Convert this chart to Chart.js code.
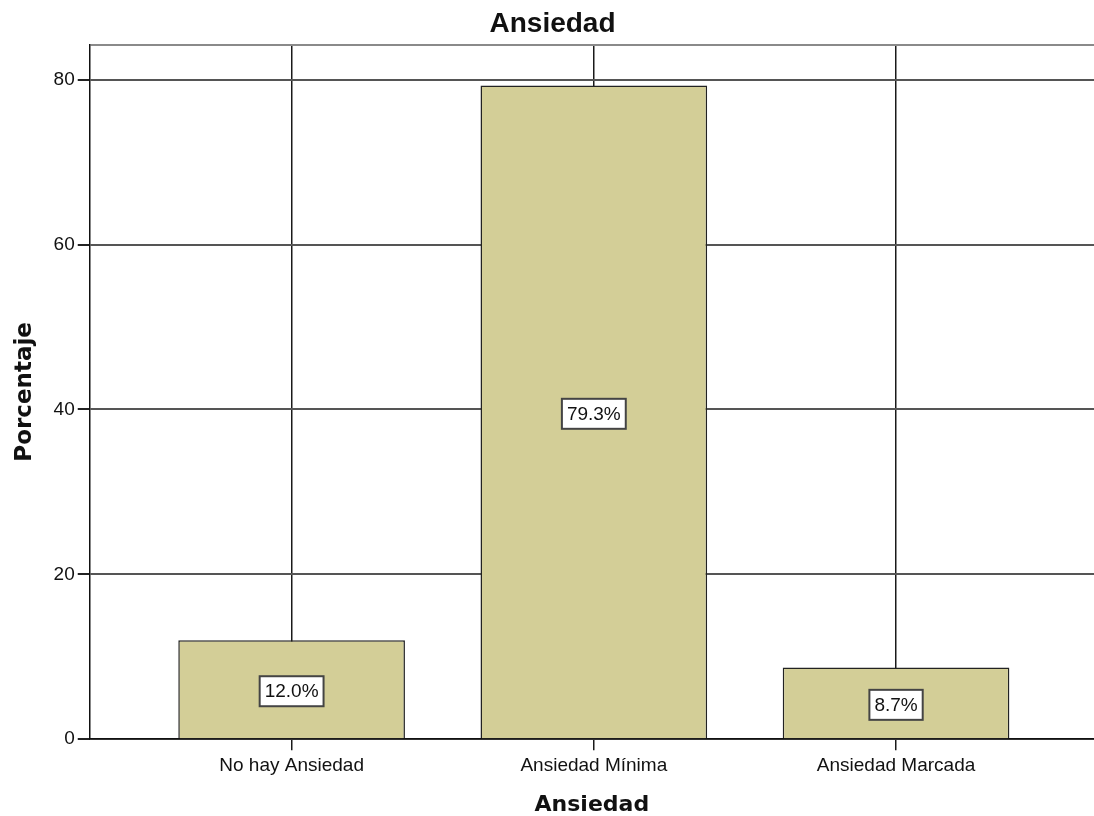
<!DOCTYPE html>
<html>
<head>
<meta charset="utf-8">
<script src="https://cdn.jsdelivr.net/npm/chart.js@4/dist/chart.umd.min.js"></script>
<style>
  html, body { margin: 0; padding: 0; background: #fff; overflow: hidden; }
  #wrap { width: 1094px; height: 816px; }
</style>
</head>
<body>
<div id="wrap"><canvas id="Chart" width="1094" height="816"></canvas></div>
<script>
const categories = ["No hay Ansiedad", "Ansiedad Mínima", "Ansiedad Marcada"];
const percentages = [12.0, 79.3, 8.7];
const yTicks = [0, 20, 40, 60, 80];

// draws the white "12.0%" boxes in the middle of each bar
const barLabels = {
  id: "barLabels",
  afterDatasetsDraw(chart) {
    const ctx = chart.ctx;
    const meta = chart.getDatasetMeta(0);
    ctx.save();
    ctx.font = "19px 'Liberation Sans', Arial, sans-serif";
    ctx.textAlign = "center";
    ctx.textBaseline = "middle";
    meta.data.forEach((bar, i) => {
      const text = percentages[i].toFixed(1) + "%";
      const w = ctx.measureText(text).width + 10;
      const h = 30;
      const cx = bar.x;
      const cy = (bar.y + bar.base) / 2 + 2;
      ctx.fillStyle = "#fff";
      ctx.fillRect(cx - w / 2, cy - h / 2, w, h);
      ctx.strokeStyle = "#444";
      ctx.lineWidth = 2;
      ctx.strokeRect(cx - w / 2, cy - h / 2, w, h);
      ctx.fillStyle = "#111";
      ctx.fillText(text, cx, cy + 1);
    });
    ctx.restore();
  },
};

new Chart("Chart", {
  type: "bar",
  data: {
    datasets: [
      {
        data: percentages.map((v, i) => ({ x: i, y: v })),
        backgroundColor: "#d3ce97",
        borderColor: "#222",
        borderWidth: 1.5,
        categoryPercentage: 1,
        barPercentage: 0.75,
      },
    ],
  },
  options: {
    responsive: false,
    animation: false,
    layout: { padding: { top: 7, right: 0, bottom: 0, left: 11 } },
    plugins: {
      legend: { display: false },
      tooltip: { enabled: false },
      title: {
        display: true,
        text: "Ansiedad",
        color: "#111",
        font: { family: "'Liberation Sans', Arial, sans-serif", size: 28, weight: "bold" },
        padding: { top: 0, bottom: 4 },
      },
    },
    scales: {
      x: {
        type: "linear",
        offset: false,
        min: -0.668,
        max: 2.655,
        afterBuildTicks: (axis) => {
          axis.ticks = categories.map((_, i) => ({ value: i }));
        },
        ticks: {
          autoSkip: false,
          maxRotation: 0,
          color: "#111",
          padding: 4,
          font: { family: "'Liberation Sans', Arial, sans-serif", size: 19 },
          callback: (v) => categories[v] ?? "",
        },
        grid: { offset: false, color: "#1a1a1a", lineWidth: 1.5, tickLength: 11 },
        border: { color: "#111", width: 1.5 },
        title: {
          display: true,
          text: "Ansiedad",
          color: "#111",
          font: { family: "'DejaVu Sans', sans-serif", size: 22, weight: "bold", lineHeight: 1.0 },
          padding: { top: 13, bottom: 0 },
        },
      },
      y: {
        min: 0,
        max: 84.25,
        afterBuildTicks: (axis) => {
          axis.ticks = yTicks.concat([84.25]).map((v) => ({ value: v }));
        },
        ticks: {
          color: "#111",
          padding: 3,
          font: { family: "'Liberation Sans', Arial, sans-serif", size: 19 },
          callback: (v) => (yTicks.includes(v) ? v : ""),
        },
        grid: {
          color: (c) => (c.tick && c.tick.value === 84.25 ? "#8a8a8a" : "#555"),
          tickColor: (c) => (c.tick && c.tick.value === 84.25 ? "rgba(0,0,0,0)" : "#222"),
          lineWidth: 2,
          tickLength: 12,
        },
        border: { color: "#111", width: 1.5 },
        title: {
          display: true,
          text: "Porcentaje",
          color: "#111",
          font: { family: "'DejaVu Sans', sans-serif", size: 23, weight: "bold" },
          padding: { top: 0, bottom: 12 },
        },
      },
    },
  },
  plugins: [barLabels],
});
</script>
</body>
</html>
